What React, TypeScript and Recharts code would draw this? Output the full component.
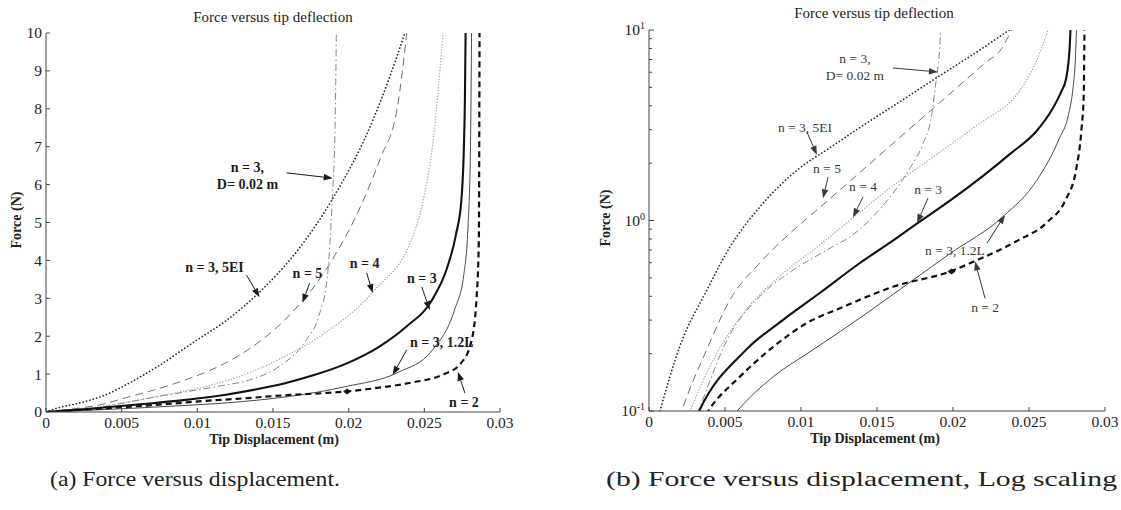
import React from 'react';
import { LineChart, Line, XAxis, YAxis, ReferenceLine, ReferenceDot } from 'recharts';

// ---- Tip displacement (m) vs force (N) for each beam configuration ----
type Pt = { x: number; f: number };
const pts = (rows: number[][]): Pt[] => rows.map(([x, f]) => ({ x, f }));

const n2 = pts([
  [0, 0], [0.002, 0.05], [0.0039, 0.1], [0.006, 0.152], [0.0082, 0.218], [0.0104, 0.29],
  [0.0126, 0.347], [0.0161, 0.45], [0.0198, 0.54], [0.0216, 0.62], [0.0242, 0.78],
  [0.0262, 0.98], [0.0274, 1.28], [0.0281, 1.85], [0.02845, 3.0], [0.0286, 4.5], [0.02865, 10.5],
]);

const n3 = pts([
  [0, 0], [0.0018, 0.05], [0.0033, 0.1], [0.0064, 0.21], [0.0088, 0.3], [0.0113, 0.42],
  [0.0139, 0.6], [0.0158, 0.76], [0.0176, 0.96], [0.0198, 1.27], [0.022, 1.72], [0.0238, 2.25],
  [0.0255, 2.95], [0.0265, 3.8], [0.0271, 4.7], [0.02745, 5.6], [0.0276, 6.8], [0.02768, 8.2],
  [0.02774, 10.5],
]);

const n3Long = pts([
  [0, 0], [0.003, 0.05], [0.0058, 0.1], [0.0082, 0.152], [0.0104, 0.2], [0.0126, 0.262],
  [0.0139, 0.309], [0.0161, 0.412], [0.0198, 0.67], [0.0233, 1.05], [0.0255, 1.62], [0.027, 2.7],
  [0.0276, 3.6], [0.0279, 5.0], [0.02805, 7.0], [0.02813, 10.5],
]);

const n3Stiff = pts([
  [0, 0], [0.00072, 0.1], [0.00204, 0.22], [0.0038, 0.43], [0.0053, 0.72], [0.0073, 1.18],
  [0.0099, 1.88], [0.0118, 2.38], [0.0142, 3.2], [0.0165, 4.2], [0.0189, 5.6], [0.0216, 7.7],
  [0.02375, 10.05], [0.0245, 11],
]);

const n5 = pts([
  [0, 0], [0.001, 0.05], [0.00215, 0.1], [0.0038, 0.21], [0.0053, 0.38], [0.0073, 0.6],
  [0.0093, 0.86], [0.0115, 1.22], [0.0133, 1.63], [0.0158, 2.44], [0.0187, 3.88], [0.0207, 5.35],
  [0.0221, 6.7], [0.0232, 8.0], [0.0239, 10.2],
]);

const n4 = pts([
  [0, 0], [0.0013, 0.05], [0.0027, 0.1], [0.00445, 0.2], [0.0064, 0.34], [0.0086, 0.51],
  [0.011, 0.72], [0.0134, 1.03], [0.0157, 1.45], [0.0183, 2.05], [0.0216, 3.17], [0.0243, 4.7],
  [0.0249, 5.55], [0.0255, 6.9], [0.0263, 10.3],
]);

const n3Dia = pts([
  [0, 0], [0.0018, 0.05], [0.00325, 0.1], [0.0053, 0.25], [0.0073, 0.4], [0.0095, 0.55],
  [0.0117, 0.7], [0.0134, 0.84], [0.0154, 1.2], [0.0172, 1.9], [0.018, 2.5], [0.0186, 3.6],
  [0.0189, 5.5], [0.0191, 7.5], [0.0192, 10.5],
]);

// marked point on the n = 2 curve
const n2Marker = { x: 0.0199, f: 0.54 };

// ---- Tick values ----
const xTicks = [0, 0.005, 0.01, 0.015, 0.02, 0.025, 0.03];
const linForceTicks = [0, 1, 2, 3, 4, 5, 6, 7, 8, 9, 10];
const logForceTicks = [0.1, 0.2, 0.3, 0.4, 0.5, 0.6, 0.7, 0.8, 0.9, 1, 2, 3, 4, 5, 6, 7, 8, 9, 10];

// ---- Curve styles ----
const SERIES = [
  { key: 'n4', data: n4, stroke: '#a9a9a9', width: 1.4, dash: '0.1 2.8', cap: 'round' },
  { key: 'dia', data: n3Dia, stroke: '#858585', width: 1, dash: '7 3 1.5 3', cap: 'butt' },
  { key: 'n5', data: n5, stroke: '#6f6f6f', width: 1, dash: '8 5', cap: 'butt' },
  { key: 'stiff', data: n3Stiff, stroke: '#2a2a2a', width: 1.7, dash: '0.1 3.4', cap: 'round' },
  { key: 'long', data: n3Long, stroke: '#4a4a4a', width: 1, dash: undefined, cap: 'butt' },
  { key: 'n2', data: n2, stroke: '#111', width: 2.2, dash: '6 4', cap: 'butt' },
  { key: 'n3', data: n3, stroke: '#111', width: 2.1, dash: undefined, cap: 'butt' },
];

// ---- Annotations: label centre, arrow tail, arrow tip (data units) ----
type Note = { text: string[]; at: [number, number]; from: [number, number]; to: [number, number] };

const linNotes: Note[] = [
  { text: ['n = 3,', 'D= 0.02 m'], at: [0.01331, 6.46], from: [0.0159, 6.31], to: [0.01894, 6.17] },
  { text: ['n = 3, 5EI'], at: [0.01113, 3.83], from: [0.01325, 3.61], to: [0.01411, 3.03] },
  { text: ['n = 5'], at: [0.01728, 3.67], from: [0.01742, 3.4], to: [0.01695, 2.88] },
  { text: ['n = 4'], at: [0.02106, 3.93], from: [0.02119, 3.67], to: [0.02159, 3.14] },
  { text: ['n = 3'], at: [0.02483, 3.54], from: [0.02483, 3.3], to: [0.02536, 2.69] },
  { text: ['n = 3, 1.2L'], at: [0.02616, 1.85], from: [0.02384, 1.64], to: [0.02291, 0.98] },
  { text: ['n = 2'], at: [0.02762, 0.26], from: [0.02768, 0.5], to: [0.02722, 1.06] },
];

const logNotes: Note[] = [
  { text: ['n = 3,', 'D= 0.02 m'], at: [0.01355, 7.13], from: [0.01605, 6.32], to: [0.01901, 6.02] },
  { text: ['n = 3, 5EI'], at: [0.01026, 3.1], from: [0.01039, 2.91], to: [0.01105, 2.21] },
  { text: ['n = 5'], at: [0.01171, 1.89], from: [0.01178, 1.69], to: [0.01145, 1.31] },
  { text: ['n = 4'], at: [0.01408, 1.52], from: [0.01408, 1.33], to: [0.01342, 1.04] },
  { text: ['n = 3'], at: [0.01836, 1.45], from: [0.01836, 1.31], to: [0.01763, 0.97] },
  { text: ['n = 3, 1.2L'], at: [0.02013, 0.7], from: [0.02224, 0.76], to: [0.02342, 1.07] },
  { text: ['n = 2'], at: [0.02211, 0.35], from: [0.02211, 0.39], to: [0.02145, 0.61] },
];

const FONT = '"Liberation Serif", "Times New Roman", Times, serif';
const AXIS = '#444';
const GAP = 4;
const TICK_FS = 15.5;

function XTick(props: any) {
  const { x, y, payload } = props;
  const axisY = y - GAP;
  return (
    <g>
      <line x1={x} x2={x} y1={axisY} y2={axisY - 4} stroke={AXIS} strokeWidth={1} />
      <text x={x} y={y} dy="0.76em" textAnchor="middle" fontFamily={FONT} fontSize={TICK_FS} fill="#222">
        {String(payload.value)}
      </text>
    </g>
  );
}

function LinYTick(props: any) {
  const { x, y, payload } = props;
  const axisX = x + GAP;
  return (
    <g>
      <line x1={axisX} x2={axisX + 4} y1={y} y2={y} stroke={AXIS} strokeWidth={1} />
      <text x={x} y={y} dy="0.35em" textAnchor="end" fontFamily={FONT} fontSize={TICK_FS} fill="#222">
        {String(payload.value)}
      </text>
    </g>
  );
}

function LogYTick(props: any) {
  const { x, y, payload } = props;
  const axisX = x + GAP;
  const e = Math.log10(payload.value);
  const major = Math.abs(e - Math.round(e)) < 1e-9;
  return (
    <g>
      <line x1={axisX} x2={axisX + (major ? 5 : 3)} y1={y} y2={y} stroke={AXIS} strokeWidth={1} />
      {major && (
        <text x={x} y={y} dy="0.35em" textAnchor="end" fontFamily={FONT} fontSize={TICK_FS} fill="#222">
          10
          <tspan dy={-6} fontSize={10}>{String(Math.round(e))}</tspan>
        </text>
      )}
    </g>
  );
}

function Arrow(p: any) {
  const { x1, y1, x2, y2, color } = p;
  if (![x1, y1, x2, y2].every((v) => Number.isFinite(v))) return null;
  const ang = Math.atan2(y2 - y1, x2 - x1);
  const L = 9;
  const W = 3.3;
  const bx = x2 - L * Math.cos(ang);
  const by = y2 - L * Math.sin(ang);
  const px = -Math.sin(ang) * W;
  const py = Math.cos(ang) * W;
  return (
    <g>
      <line x1={x1} y1={y1} x2={bx} y2={by} stroke={color} strokeWidth={1} />
      <polygon points={`${x2},${y2} ${bx + px},${by + py} ${bx - px},${by - py}`} fill={color} />
    </g>
  );
}

function NoteLabel(p: any) {
  const { cx, cy, lines, bold, color, size } = p;
  if (!Number.isFinite(cx) || !Number.isFinite(cy)) return null;
  return (
    <text
      x={cx}
      y={cy}
      textAnchor="middle"
      fontFamily={FONT}
      fontSize={size}
      fontWeight={bold ? 'bold' : 'normal'}
      fill={color}
    >
      {lines.map((t: string, i: number) => (
        <tspan key={i} x={cx} dy={i === 0 ? '0.35em' : 17}>
          {t}
        </tspan>
      ))}
    </text>
  );
}

function Diamond(p: any) {
  const { cx, cy } = p;
  if (!Number.isFinite(cx) || !Number.isFinite(cy)) return null;
  return <polygon points={`${cx - 4},${cy} ${cx},${cy - 3} ${cx + 4},${cy} ${cx},${cy + 3}`} fill="#111" />;
}

function renderNotes(notes: Note[], bold: boolean, color: string, size: number) {
  const out: React.ReactNode[] = [];
  notes.forEach((n, i) => {
    out.push(
      <ReferenceLine
        key={`arrow-${i}`}
        segment={[
          { x: n.from[0], y: n.from[1] },
          { x: n.to[0], y: n.to[1] },
        ]}
        ifOverflow="visible"
        shape={(p: any) => <Arrow {...p} color={color} />}
      />
    );
    out.push(
      <ReferenceDot
        key={`label-${i}`}
        x={n.at[0]}
        y={n.at[1]}
        ifOverflow="visible"
        shape={(p: any) => <NoteLabel {...p} lines={n.text} bold={bold} color={color} size={size} />}
      />
    );
  });
  return out;
}

function renderSeries(log: boolean) {
  return SERIES.map((s) => (
    <Line
      key={s.key}
      data={log ? s.data.filter((d) => d.f > 0) : s.data}
      dataKey="f"
      type="monotone"
      stroke={s.stroke}
      strokeWidth={s.width}
      strokeDasharray={s.dash}
      strokeLinecap={s.cap as any}
      dot={false}
      activeDot={false}
      isAnimationActive={false}
    />
  ));
}

function LinearChart() {
  return (
    <LineChart width={560} height={460} margin={{ top: 33, right: 60, bottom: 18, left: 0 }}>
      <XAxis
        dataKey="x"
        type="number"
        domain={[0, 0.03]}
        ticks={xTicks}
        interval={0}
        allowDataOverflow
        height={30}
        tickSize={0}
        tickMargin={GAP}
        tickLine={false}
        tick={<XTick />}
        axisLine={{ stroke: AXIS, strokeWidth: 1 }}
      />
      <YAxis
        type="number"
        domain={[0, 10]}
        ticks={linForceTicks}
        interval={0}
        allowDataOverflow
        width={46}
        tickSize={0}
        tickMargin={GAP}
        tickLine={false}
        tick={<LinYTick />}
        axisLine={{ stroke: AXIS, strokeWidth: 1 }}
      />
      {renderSeries(false)}
      <ReferenceDot x={n2Marker.x} y={n2Marker.f} ifOverflow="visible" shape={(p: any) => <Diamond {...p} />} />
      {renderNotes(linNotes, true, '#1c1c1c', 14)}
    </LineChart>
  );
}

function LogChart() {
  return (
    <LineChart width={561} height={460} margin={{ top: 30, right: 16, bottom: 19, left: 0 }}>
      <XAxis
        dataKey="x"
        type="number"
        domain={[0, 0.03]}
        ticks={xTicks}
        interval={0}
        allowDataOverflow
        height={30}
        tickSize={0}
        tickMargin={GAP}
        tickLine={false}
        tick={<XTick />}
        axisLine={{ stroke: AXIS, strokeWidth: 1 }}
      />
      <YAxis
        type="number"
        scale="log"
        domain={[0.1, 10]}
        ticks={logForceTicks}
        interval={0}
        allowDataOverflow
        width={89}
        tickSize={0}
        tickMargin={GAP}
        tickLine={false}
        tick={<LogYTick />}
        axisLine={{ stroke: AXIS, strokeWidth: 1 }}
      />
      {renderSeries(true)}
      <ReferenceDot x={n2Marker.x} y={n2Marker.f} ifOverflow="visible" shape={(p: any) => <Diamond {...p} />} />
      {renderNotes(logNotes, false, '#3a3a3a', 13.5)}
    </LineChart>
  );
}

export default function App() {
  const titleStyle = { fontFamily: FONT, fill: '#222' } as const;
  return (
    <div style={{ position: 'absolute', left: 0, top: 0, width: 1121, height: 510, background: '#fff', overflow: 'hidden' }}>
      <div style={{ position: 'absolute', left: 0, top: 0 }}>
        <LinearChart />
      </div>
      <div style={{ position: 'absolute', left: 560, top: 0 }}>
        <LogChart />
      </div>
      <svg width={1121} height={510} style={{ position: 'absolute', left: 0, top: 0, pointerEvents: 'none' }}>
        <text x={273} y={22} textAnchor="middle" fontSize={15} {...titleStyle}>Force versus tip deflection</text>
        <text x={874} y={18} textAnchor="middle" fontSize={15} {...titleStyle}>Force versus tip deflection</text>
        <text x={274} y={444} textAnchor="middle" fontSize={14} fontWeight="bold" {...titleStyle}>Tip Displacement (m)</text>
        <text x={875} y={443} textAnchor="middle" fontSize={14} fontWeight="bold" {...titleStyle}>Tip Displacement (m)</text>
        <text x={0} y={0} transform="translate(21,220) rotate(-90)" textAnchor="middle" fontSize={14} fontWeight="bold" {...titleStyle}>Force (N)</text>
        <text x={0} y={0} transform="translate(610,218) rotate(-90)" textAnchor="middle" fontSize={14} fontWeight="bold" {...titleStyle}>Force (N)</text>
        <text x={50} y={486} fontSize={21} textLength={290} lengthAdjust="spacingAndGlyphs" {...titleStyle}>(a) Force versus displacement.</text>
        <text x={606} y={486} fontSize={21} textLength={511} lengthAdjust="spacingAndGlyphs" {...titleStyle}>(b) Force versus displacement, Log scaling</text>
      </svg>
    </div>
  );
}
